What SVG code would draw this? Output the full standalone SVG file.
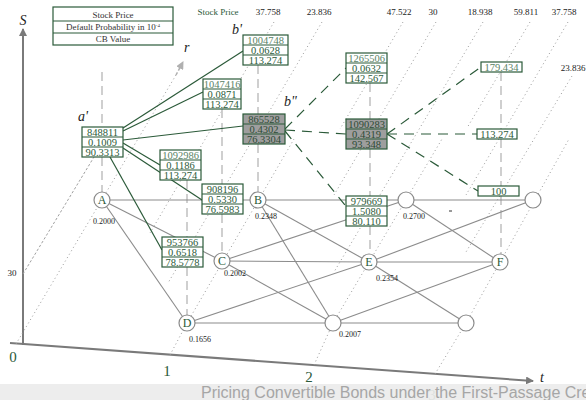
<svg xmlns="http://www.w3.org/2000/svg" width="586" height="400" viewBox="0 0 586 400">
<defs>
<style>
.bx{fill:#fff;stroke:#2b5a39;stroke-width:1.2}
.gbx{fill:#9e9e9e;stroke:#2b5a39;stroke-width:1.2}
.num{font-family:"Liberation Serif",serif;font-size:10.5px;fill:#2b5a39;text-anchor:middle}
.numl{font-family:"Liberation Serif",serif;font-size:10.5px;fill:#5a8366;text-anchor:middle}
.gnum{font-family:"Liberation Serif",serif;font-size:10.5px;fill:#2d4a35;text-anchor:middle}
.top{font-family:"Liberation Serif",serif;font-size:9px;fill:#222;text-anchor:middle}
.pr{font-family:"Liberation Serif",serif;font-size:8px;fill:#222;text-anchor:middle}
.lab{font-family:"Liberation Serif",serif;font-style:italic;font-size:14px;fill:#222}
.nd{fill:#fff;stroke:#8a8a8a;stroke-width:1.2}
.ndt{font-family:"Liberation Serif",serif;font-size:12px;fill:#2b5a39;text-anchor:middle}
.ax{font-family:"Liberation Serif",serif;font-size:15px;fill:#2b5a39;text-anchor:middle}
.edge{stroke:#8c8c8c;stroke-width:1.1;fill:none}
.vd{stroke:#c4c4c4;stroke-width:1.6;stroke-dasharray:9 5;fill:none}
.dot{stroke:#9a9a9a;stroke-width:1;stroke-dasharray:1 3;fill:none}
.gs{stroke:#2b5a39;stroke-width:1.2;fill:none}
.gd{stroke:#2b5a39;stroke-width:1.2;stroke-dasharray:10 7;fill:none}
</style>
<marker id="ah" markerWidth="8" markerHeight="8" refX="7" refY="4" orient="auto" markerUnits="userSpaceOnUse"><path d="M0,0 L8,4 L0,8 z" fill="#7a7a7a"/></marker>
<marker id="ahr" markerWidth="8" markerHeight="8" refX="7" refY="4" orient="auto" markerUnits="userSpaceOnUse"><path d="M0,0 L8,4 L0,8 z" fill="#b0b0b0"/></marker>
</defs>
<rect width="586" height="400" fill="#fff"/>

<g id="axes">
<line x1="23" y1="345" x2="23" y2="29" stroke="#7a7a7a" stroke-width="2" marker-end="url(#ah)"/>
<text x="23" y="25" class="lab" text-anchor="middle" font-size="13">S</text>
<line x1="10" y1="343" x2="533" y2="381" stroke="#7a7a7a" stroke-width="2" marker-end="url(#ah)"/>
<text x="542" y="382" class="lab" font-style="normal" fill="#2b5a39" text-anchor="middle">t</text>
<text x="13" y="362" class="ax">0</text>
<text x="167" y="376" class="ax">1</text>
<text x="309" y="382" class="ax">2</text>
<text x="12" y="276" class="top" font-size="10">30</text>
</g>

<g id="dotted">
<line x1="16" y1="344" x2="176" y2="75" class="dot"/>
<line x1="176" y1="75" x2="183" y2="62" stroke="#b0b0b0" stroke-width="1.5" stroke-dasharray="3 2" marker-end="url(#ahr)"/>
<text x="184" y="52" class="lab" font-size="11">r</text>
<line x1="23" y1="274" x2="94" y2="157" stroke="#a0a0a0" stroke-width="1" stroke-dasharray="2.5 2"/>
<line x1="170" y1="355" x2="187" y2="323" class="dot"/>
<line x1="187" y1="323" x2="294" y2="139" class="dot"/>
<line x1="314" y1="365" x2="333" y2="323" class="dot"/>
<line x1="333" y1="323" x2="442" y2="139" class="dot"/>
<line x1="435" y1="374" x2="466" y2="323" class="dot"/>
<line x1="466" y1="323" x2="569" y2="139" class="dot"/>
<line x1="274" y1="22" x2="150" y2="233" class="dot"/>
<line x1="322" y1="22" x2="168" y2="283" class="dot"/>
<line x1="403" y1="22" x2="340" y2="129" class="dot"/>
<line x1="436" y1="22" x2="334" y2="195" class="dot"/>
<line x1="483" y1="22" x2="334" y2="272" class="dot"/>
<line x1="530" y1="22" x2="467" y2="128" class="dot"/>
<line x1="568" y1="22" x2="466" y2="195" class="dot"/>
<line x1="572" y1="76" x2="466" y2="252" class="dot"/>
</g>

<g id="vdash">
<line x1="102" y1="72" x2="102" y2="127" class="vd"/>
<line x1="102" y1="157" x2="102" y2="192" class="vd"/>
<line x1="187" y1="180" x2="187" y2="237" class="vd"/>
<line x1="187" y1="267" x2="187" y2="315" class="vd"/>
<line x1="222" y1="109" x2="222" y2="184" class="vd"/>
<line x1="222" y1="214" x2="222" y2="253" class="vd"/>
<line x1="258" y1="65" x2="258" y2="114" class="vd"/>
<line x1="258" y1="144" x2="258" y2="192" class="vd"/>
<line x1="370" y1="83" x2="370" y2="119" class="vd"/>
<line x1="370" y1="149" x2="370" y2="196" class="vd"/>
<line x1="370" y1="226" x2="370" y2="254" class="vd"/>
<line x1="501" y1="72" x2="501" y2="129" class="vd"/>
<line x1="501" y1="139" x2="501" y2="186" class="vd"/>
<line x1="501" y1="196" x2="501" y2="254" class="vd"/>
</g>

<g id="connectors">
<line x1="102" y1="200" x2="258" y2="200" class="edge"/>
<line x1="102" y1="200" x2="222" y2="261" class="edge"/>
<line x1="102" y1="200" x2="187" y2="323" class="edge"/>
<line x1="258" y1="200" x2="406" y2="200" class="edge"/>
<line x1="258" y1="200" x2="369" y2="262" class="edge"/>
<line x1="258" y1="200" x2="333" y2="323" class="edge"/>
<line x1="222" y1="261" x2="406" y2="200" class="edge"/>
<line x1="222" y1="261" x2="369" y2="262" class="edge"/>
<line x1="222" y1="261" x2="333" y2="323" class="edge"/>
<line x1="187" y1="323" x2="369" y2="262" class="edge"/>
<line x1="187" y1="323" x2="333" y2="323" class="edge"/>
<line x1="406" y1="200" x2="533" y2="200" class="edge"/>
<line x1="406" y1="200" x2="500" y2="262" class="edge"/>
<line x1="369" y1="262" x2="533" y2="200" class="edge"/>
<line x1="369" y1="262" x2="500" y2="262" class="edge"/>
<line x1="369" y1="262" x2="466" y2="323" class="edge"/>
<line x1="333" y1="323" x2="500" y2="262" class="edge"/>
<line x1="333" y1="323" x2="466" y2="323" class="edge"/>

<line x1="123" y1="128" x2="243" y2="51" class="gs"/>
<line x1="123" y1="131" x2="203" y2="92" class="gs"/>
<line x1="123" y1="140" x2="243" y2="126" class="gs"/>
<line x1="123" y1="143" x2="160" y2="165" class="gs"/>
<line x1="123" y1="148" x2="202" y2="200" class="gs"/>
<line x1="110" y1="157" x2="162" y2="250" class="gs"/>

<line x1="285" y1="129" x2="346" y2="68" class="gd"/>
<line x1="285" y1="130" x2="346" y2="134" class="gd"/>
<line x1="285" y1="131" x2="345" y2="205" class="gd"/>
<line x1="387" y1="134" x2="481" y2="67" class="gd"/>
<line x1="387" y1="134" x2="477" y2="134" class="gd"/>
<line x1="387" y1="134" x2="478" y2="191" class="gd"/>
<line x1="449" y1="211" x2="452" y2="211" stroke="#333" stroke-width="1"/>
</g>

<g id="nodeA"><circle cx="102" cy="200" r="8" class="nd"/><text x="102" y="204" class="ndt">A</text></g>
<g id="nodeB"><circle cx="258" cy="200" r="8" class="nd"/><text x="258" y="204" class="ndt">B</text></g>
<g id="nodeC"><circle cx="222" cy="261" r="8" class="nd"/><text x="222" y="265" class="ndt">C</text></g>
<g id="nodeD"><circle cx="187" cy="323" r="8" class="nd"/><text x="187" y="327" class="ndt">D</text></g>
<g id="nodeE"><circle cx="369" cy="262" r="8" class="nd"/><text x="369" y="266" class="ndt">E</text></g>
<g id="nodeF"><circle cx="500" cy="262" r="8" class="nd"/><text x="500" y="266" class="ndt">F</text></g>
<g id="node2a"><circle cx="406" cy="200" r="8" class="nd"/></g>
<g id="node2c"><circle cx="333" cy="323" r="8" class="nd"/></g>
<g id="node3a"><circle cx="533" cy="200" r="8" class="nd"/></g>
<g id="node3c"><circle cx="466" cy="323" r="8" class="nd"/></g>

<g id="rates">
<text x="104" y="224" class="pr">0.2000</text>
<text x="266" y="219" class="pr">0.2348</text>
<text x="235" y="276" class="pr">0.2002</text>
<text x="200" y="342" class="pr">0.1656</text>
<text x="350" y="337" class="pr">0.2007</text>
<text x="387" y="281" class="pr">0.2354</text>
<text x="414" y="219" class="pr">0.2700</text>
</g>

<g id="toplabels">
<text x="218" y="15" class="top" style="fill:#2b5a39">Stock Price</text>
<text x="268" y="15" class="top">37.758</text>
<text x="319" y="15" class="top">23.836</text>
<text x="399" y="15" class="top">47.522</text>
<text x="433" y="15" class="top">30</text>
<text x="480" y="15" class="top">18.938</text>
<text x="526" y="15" class="top">59.811</text>
<text x="564" y="15" class="top">37.758</text>
<text x="573" y="71" class="top">23.836</text>
</g>

<g id="legend">
<rect x="53" y="7" width="120" height="38" class="bx"/>
<line x1="53" y1="21" x2="173" y2="21" class="gs"/>
<line x1="53" y1="33" x2="173" y2="33" class="gs"/>
<text x="113" y="18" class="top" style="fill:#333" font-size="10">Stock Price</text>
<text x="113" y="30" class="top" style="fill:#333" font-size="7.5">Default Probability in 10<tspan font-size="5" dy="-3">-4</tspan></text>
<text x="113" y="42" class="top" style="fill:#333" font-size="10">CB Value</text>
</g>

<g id="box-a">
<text x="78" y="121" class="lab" font-size="15">a'</text>
<rect x="82" y="127" width="41" height="30" class="bx"/>
<line x1="82" y1="137" x2="123" y2="137" class="gs"/><line x1="82" y1="147" x2="123" y2="147" class="gs"/>
<text x="102.5" y="135.5" class="num">848811</text><text x="102.5" y="145.5" class="num">0.1009</text><text x="102.5" y="155.5" class="num">90.3313</text>
</g>

<g id="box-b1">
<text x="232" y="34" class="lab" font-size="13">b'</text>
<rect x="243" y="35" width="45" height="30" class="bx"/>
<line x1="243" y1="45" x2="288" y2="45" class="gs"/><line x1="243" y1="55" x2="288" y2="55" class="gs"/>
<text x="265.5" y="43.5" class="numl">1004748</text><text x="265.5" y="53.5" class="num">0.0628</text><text x="265.5" y="63.5" class="num">113.274</text>
</g>

<g id="box-1047416">
<rect x="203" y="79" width="38" height="30" class="bx"/>
<line x1="203" y1="89" x2="241" y2="89" class="gs"/><line x1="203" y1="99" x2="241" y2="99" class="gs"/>
<text x="222" y="87.5" class="numl">1047416</text><text x="222" y="97.5" class="num">0.0871</text><text x="222" y="107.5" class="num">113.274</text>
</g>

<g id="box-b2">
<text x="284" y="106" class="lab" font-size="13">b"</text>
<rect x="243" y="114" width="42" height="30" class="gbx"/>
<line x1="243" y1="124" x2="285" y2="124" class="gs"/><line x1="243" y1="134" x2="285" y2="134" class="gs"/>
<text x="264" y="122.5" class="gnum">865528</text><text x="264" y="132.5" class="gnum">0.4302</text><text x="264" y="142.5" class="gnum">76.3304</text>
</g>

<g id="box-1092986">
<rect x="160" y="150" width="41" height="30" class="bx"/>
<line x1="160" y1="160" x2="201" y2="160" class="gs"/><line x1="160" y1="170" x2="201" y2="170" class="gs"/>
<text x="180.5" y="158.5" class="numl">1092986</text><text x="180.5" y="168.5" class="num">0.1186</text><text x="180.5" y="178.5" class="num">113.274</text>
</g>

<g id="box-908196">
<rect x="202" y="184" width="41" height="30" class="bx"/>
<line x1="202" y1="194" x2="243" y2="194" class="gs"/><line x1="202" y1="204" x2="243" y2="204" class="gs"/>
<text x="222.5" y="192.5" class="num">908196</text><text x="222.5" y="202.5" class="num">0.5330</text><text x="222.5" y="212.5" class="num">76.5983</text>
</g>

<g id="box-953766">
<rect x="162" y="237" width="41" height="30" class="bx"/>
<line x1="162" y1="247" x2="203" y2="247" class="gs"/><line x1="162" y1="257" x2="203" y2="257" class="gs"/>
<text x="182.5" y="245.5" class="num">953766</text><text x="182.5" y="255.5" class="num">0.6518</text><text x="182.5" y="265.5" class="num">78.5778</text>
</g>

<g id="box-1265506">
<rect x="346" y="53" width="41" height="30" class="bx"/>
<line x1="346" y1="63" x2="387" y2="63" class="gs"/><line x1="346" y1="73" x2="387" y2="73" class="gs"/>
<text x="366.5" y="61.5" class="numl">1265506</text><text x="366.5" y="71.5" class="num">0.0632</text><text x="366.5" y="81.5" class="num">142.567</text>
</g>

<g id="box-1090283">
<rect x="346" y="119" width="41" height="30" class="gbx"/>
<line x1="346" y1="129" x2="387" y2="129" class="gs"/><line x1="346" y1="139" x2="387" y2="139" class="gs"/>
<text x="366.5" y="127.5" class="gnum">1090283</text><text x="366.5" y="137.5" class="gnum">0.4319</text><text x="366.5" y="147.5" class="gnum">93.348</text>
</g>

<g id="box-979669">
<rect x="346" y="196" width="41" height="30" class="bx"/>
<line x1="346" y1="206" x2="387" y2="206" class="gs"/><line x1="346" y1="216" x2="387" y2="216" class="gs"/>
<text x="366.5" y="204.5" class="num">979669</text><text x="366.5" y="214.5" class="num">1.5080</text><text x="366.5" y="224.5" class="num">80.110</text>
</g>

<g id="box-179"><rect x="481" y="62" width="41" height="10" class="bx"/><text x="501.5" y="70.5" class="numl">179.434</text></g>
<g id="box-113"><rect x="477" y="129" width="40" height="10" class="bx"/><text x="497" y="137.5" class="num">113.274</text></g>
<g id="box-100"><rect x="478" y="186" width="41" height="10" class="bx"/><text x="498.5" y="194.5" class="num">100</text></g>

<g id="footer">
<text x="432" y="400" class="ax">3</text>
<rect x="0" y="384" width="586" height="16" fill="#ececec" fill-opacity="0.92"/>
<text x="201" y="398" font-family="'Liberation Sans',sans-serif" font-size="16" fill="#a6a6a6">Pricing Convertible Bonds under the First-Passage Cre</text>
</g>
</svg>
